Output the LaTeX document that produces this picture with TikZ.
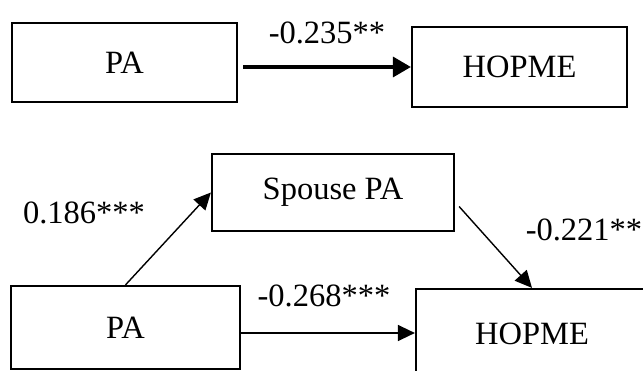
\documentclass[tikz,border=0pt]{standalone}
\usepackage{fontspec}
\setmainfont{Liberation Serif}
\usetikzlibrary{arrows.meta,calc}
\tikzset{
  box/.style={draw, line width=2.2pt, inner sep=0pt, font=\fontsize{32.5}{38}\selectfont},
  lbl/.style={inner sep=0pt, font=\fontsize{32.5}{38}\selectfont},
  thickarrow/.style={line width=3.4pt, -{Triangle[length=18pt,width=20pt]}},
  thinarrow/.style={line width=1.4pt, -{Triangle[length=17pt,width=16pt]}}
}
\begin{document}
\begin{tikzpicture}[x=1pt,y=-1pt]
\clip (0,0) rectangle (643,371);
\fill[white] (0,0) rectangle (643,371);
% top model
\node[box, minimum width=225pt, minimum height=79pt] (pa1) at (124.5,62.5) {PA};
\node[box, minimum width=215pt, minimum height=80pt] (ho1) at (519.5,67) {HOPME};
\coordinate (s1) at ($(pa1.east)+(5,4.5)$);
\draw[thickarrow] (s1) -- (s1 -| ho1.west);
\node[lbl] (l1) at (327,33) {-0.235**};
% bottom model
\node[box, minimum width=242pt, minimum height=77pt] (sp) at (333,192.5) {Spouse PA};
\node[box, minimum width=229pt, minimum height=83pt] (pa2) at (125.5,327.5) {PA};
\node[box, minimum width=232pt, minimum height=90pt] (ho2) at (532,334) {HOPME};
\draw[thinarrow] (pa2.north) -- (sp.west);
\coordinate (s2) at ($(sp.east)+(4,14)$);
\draw[thinarrow] (s2) -- (ho2.north);
\coordinate (s3) at ($(pa2.east)+(0,5.5)$);
\draw[thinarrow] (s3) -- (s3 -| ho2.west);
\node[lbl] (l2) at (84,212.5) {0.186***};
\node[lbl] (l3) at (584,230) {-0.221**};
\node[lbl] (l4) at (324,296) {-0.268***};
\end{tikzpicture}
\end{document}
